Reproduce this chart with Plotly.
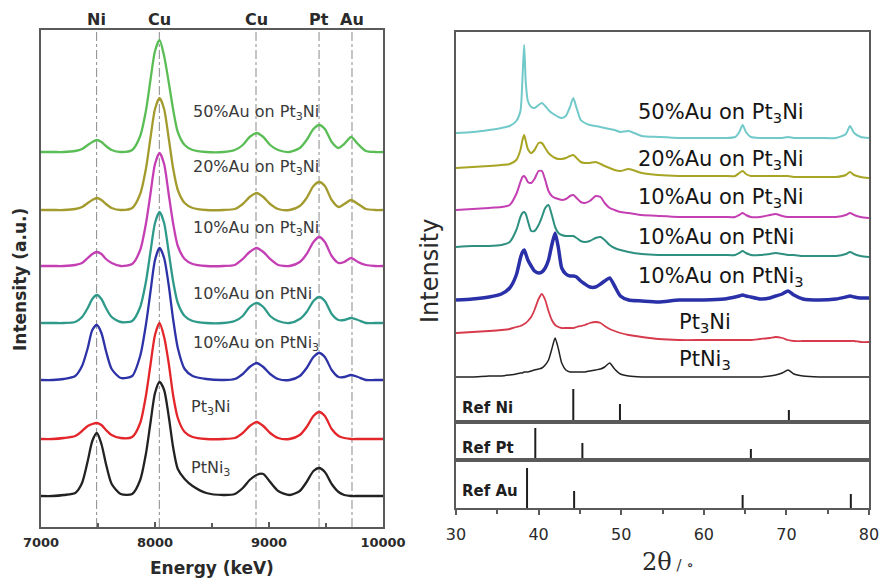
import plotly.graph_objects as go

# ---------------- EDS line scans (left panel) ----------------
energy_kev = [7000, 7100, 7200, 7300, 7360, 7410, 7450, 7490, 7530, 7570, 7620, 7700,
              7800, 7870, 7920, 7960, 8000, 8040, 8080, 8120, 8160, 8200, 8260, 8330,
              8450, 8600, 8700, 8770, 8830, 8890, 8950, 9010, 9080, 9180, 9270, 9330,
              9390, 9440, 9490, 9550, 9610, 9660, 9720, 9780, 9850, 9930, 10000]

eds_50au_pt3ni = [0, 0, 0, 1, 3, 7, 10, 12, 10, 6, 2, 0,
                  2, 16, 41, 72, 101, 112, 96, 70, 42, 20, 7, 2,
                  0, 0, 2, 7, 15, 19, 15, 7, 2, 0,
                  4, 12, 23, 27, 23, 10, 4, 8, 15, 8, 1, 0, 0]
eds_20au_pt3ni = [0, 0, 0, 1, 3, 7, 10, 12, 10, 6, 2, 0,
                  2, 16, 41, 72, 101, 112, 101, 72, 41, 20, 7, 2,
                  0, 0, 1, 6, 13, 17, 13, 6, 1, 0,
                  4, 12, 24, 28, 24, 10, 3, 6, 10, 6, 1, 0, 0]
eds_10au_pt3ni = [0, 0, 0, 1, 3, 8, 12, 14, 12, 7, 3, 0,
                  2, 16, 42, 72, 102, 113, 102, 72, 42, 20, 7, 2,
                  0, 0, 1, 7, 14, 18, 14, 7, 1, 0,
                  4, 12, 24, 29, 24, 10, 3, 4, 8, 4, 1, 0, 0]
eds_10au_ptni = [0, 0, 0, 1, 6, 15, 24, 28, 24, 15, 6, 1,
                 2, 16, 41, 71, 100, 111, 100, 71, 41, 20, 7, 2,
                 0, 0, 2, 7, 16, 20, 16, 7, 2, 0,
                 4, 11, 22, 26, 22, 9, 3, 3, 5, 3, 0, 0, 0]
eds_10au_ptni3 = [0, 0, 1, 4, 14, 32, 50, 55, 47, 29, 11, 2,
                  4, 24, 55, 88, 120, 132, 122, 95, 60, 32, 11, 4,
                  1, 0, 1, 6, 13, 17, 13, 6, 1, 0,
                  4, 12, 23, 27, 23, 10, 3, 3, 5, 3, 0, 0, 0]
eds_pt3ni = [0, 0, 1, 3, 8, 13, 15, 16, 14, 9, 4, 1,
             2, 16, 43, 74, 104, 116, 102, 76, 43, 21, 7, 2,
             0, 0, 1, 6, 13, 17, 13, 6, 1, 0,
             4, 12, 23, 27, 23, 10, 3, 1, 0, 0, 0, 0, 0]
eds_ptni3 = [0, 0, 1, 3, 13, 35, 55, 63, 52, 32, 12, 2,
             2, 16, 42, 73, 103, 114, 106, 80, 48, 27, 17, 10,
             3, 1, 2, 8, 16, 21, 22, 14, 5, 1,
             5, 14, 25, 28, 24, 12, 4, 1, 0, 0, 0, 0, 0]

eds_series = [eds_50au_pt3ni, eds_20au_pt3ni, eds_10au_pt3ni, eds_10au_ptni,
              eds_10au_ptni3, eds_pt3ni, eds_ptni3]
eds_offsets = [375, 317, 261, 204, 147, 88, 31]
eds_colors = ["#5abd55", "#a39b2e", "#c43fb4", "#2f9a8a", "#2d33a6", "#e3262a", "#222222"]
eds_labels = ["50%Au on Pt<sub>3</sub>Ni", "20%Au on Pt<sub>3</sub>Ni", "10%Au on Pt<sub>3</sub>Ni",
              "10%Au on PtNi", "10%Au on PtNi<sub>3</sub>", "Pt<sub>3</sub>Ni", "PtNi<sub>3</sub>"]
eds_label_x = [8315, 8315, 8315, 8315, 8315, 8300, 8300]
eds_label_y = [415, 360, 299, 234, 184, 120, 59]
energy_ticks = [7000, 8000, 9000, 10000]
energy_ticktext = ["7000", "8000", "9000", "10000"]

element_names = ["Ni", "Cu", "Cu", "Pt", "Au"]
element_lines = [7488, 8038, 8886, 9439, 9728]

# ---------------- XRD patterns (right panel) ----------------
two_theta = [30, 32, 34, 35.5, 36.5, 37.3, 37.8, 38.05, 38.25, 38.45, 38.7, 39.1, 39.5, 40.0,
             40.4, 40.8, 41.2, 41.6, 42.0, 42.4, 42.8, 43.3, 43.8, 44.2, 44.6, 45.1, 45.6, 46.2,
             46.9, 47.5, 48.0, 48.6, 49.2, 49.9, 50.9, 52.5, 54.5, 57, 60, 62.5, 63.8, 64.3,
             64.7, 65.1, 65.7, 66.8, 68, 68.7, 69.5, 70.2, 70.9, 72, 74, 76, 77.2, 77.7, 78.2,
             79, 80]

xrd_50au_pt3ni = [0, 1, 3, 5, 7, 12, 22, 55, 88, 50, 32, 26, 25, 28, 30, 27, 23, 20, 18, 16,
                  15, 17, 26, 35, 25, 13, 10, 8, 7, 6, 5, 4, 3, 1, 2, -3, -4, -5, -5, -5,
                  -4, 1, 8, 1, -4, -5, -5, -5, -5, -4, -5, -5, -5, -5, -1, 7, 0, -4, -5]
xrd_20au_pt3ni = [0, 1, 2, 3, 4, 8, 18, 28, 33, 27, 19, 15, 18, 25, 25, 20, 15, 12, 10, 9,
                  9, 10, 12, 13, 10, 6, 5, 5, 6, 4, 2, 0, -2, -3, -1, -5, -7, -8, -8, -8,
                  -8, -5, -3, -6, -8, -8, -8, -8, -8, -8, -9, -9, -9, -9, -7, -4, -7, -9, -10]
xrd_10au_pt3ni = [0, 1, 2, 3, 5, 16, 28, 33, 34, 32, 28, 27, 31, 39, 39, 30, 19, 14, 12, 11,
                  10, 11, 14, 15, 12, 8, 7, 9, 14, 13, 7, 2, 0, -2, -3, -5, -6, -7, -7, -7,
                  -7, -5, -3, -5, -7, -7, -5, -4, -6, -7, -7, -7, -7, -7, -5, -3, -5, -7, -8]
xrd_10au_ptni = [0, 1, 1, 2, 5, 17, 30, 34, 35, 33, 26, 16, 16, 22, 30, 39, 42, 32, 20, 14,
                 12, 11, 11, 11, 9, 6, 5, 6, 9, 10, 7, 2, -1, -3, -5, -7, -8, -8, -8, -8,
                 -8, -6, -4, -6, -8, -8, -7, -6, -7, -8, -8, -9, -9, -9, -7, -5, -7, -9, -10]
xrd_10au_ptni3 = [0, 1, 3, 6, 12, 25, 42, 48, 50, 46, 40, 34, 29, 27, 28, 32, 40, 55, 67, 52,
                  32, 26, 24, 24, 23, 19, 16, 13, 13, 16, 19, 22, 14, 4, 0, -1, -2, 0, 0, 1,
                  3, 4, 5, 4, 3, 1, 2, 4, 6, 9, 5, 1, 0, 1, 3, 4, 3, 2, 2]
xrd_pt3ni = [0, 1, 2, 3, 4, 6, 7, 8, 9, 10, 12, 16, 23, 34, 39, 33, 22, 13, 8, 6,
             5, 5, 5, 5, 6, 7, 8, 10, 11, 10, 7, 4, 2, 0, -2, -4, -6, -7, -7, -7,
             -7, -7, -7, -7, -7, -6, -5, -4, -5, -7, -8, -8, -8, -8, -8, -8, -8, -9, -9]
xrd_ptni3 = [0, 0, 1, 1, 2, 3, 4, 4, 5, 5, 5, 6, 7, 8, 9, 12, 17, 28, 39, 28,
             14, 7, 5, 5, 5, 5, 5, 6, 7, 8, 10, 14, 8, 3, 1, 0, 0, 0, 0, 0,
             0, 0, 0, 0, 0, 0, 1, 2, 4, 7, 3, 1, 0, 0, 0, 0, 0, 0, 0]

xrd_series = [xrd_50au_pt3ni, xrd_20au_pt3ni, xrd_10au_pt3ni, xrd_10au_ptni,
              xrd_10au_ptni3, xrd_pt3ni, xrd_ptni3]
xrd_offsets = [289, 254, 212, 175, 122, 89, 45]
xrd_colors = ["#72c9c9", "#a8a424", "#c440b2", "#2e9080", "#2a30a8", "#d63a4c", "#222222"]
xrd_widths = [2, 2, 2, 2, 3.5, 1.8, 1.5]
xrd_label_x = [51.8, 51.8, 51.8, 51.8, 51.8, 56.7, 56.7]
xrd_label_y = [309, 262, 224, 185, 145, 99, 62]

# reference stick patterns
ref_ni_pos = [44.2, 49.85, 70.3]
ref_ni_int = [33, 18, 12]
ref_pt_pos = [39.6, 45.3, 65.7]
ref_pt_int = [32, 17, 11]
ref_au_pos = [38.6, 44.3, 64.7, 77.8]
ref_au_int = [40, 17, 13, 14]

W, H = 882, 580
FONT = "DejaVu Sans"
TXT = "#2a2a2a"
FRAME = "#5a5a5a"


def px_x(p):
    return p / W


def px_y(p):
    return 1 - p / H


fig = go.Figure()

# left panel curves
for vals, off, col in zip(eds_series, eds_offsets, eds_colors):
    fig.add_trace(go.Scatter(
        x=energy_kev, y=[v + off for v in vals], mode="lines",
        line=dict(color=col, width=2.3, shape="spline", smoothing=0.7),
        xaxis="x", yaxis="y", hoverinfo="skip"))

# right panel curves
for vals, off, col, lw in zip(xrd_series, xrd_offsets, xrd_colors, xrd_widths):
    fig.add_trace(go.Scatter(
        x=two_theta, y=[v + off for v in vals], mode="lines",
        line=dict(color=col, width=lw, shape="spline", smoothing=0.6),
        xaxis="x2", yaxis="y2", hoverinfo="skip"))


def sticks(pos, inten, xa, ya):
    xs, ys = [], []
    for p, h in zip(pos, inten):
        xs += [p, p, None]
        ys += [0, h, None]
    fig.add_trace(go.Scatter(x=xs, y=ys, mode="lines",
                             line=dict(color="#1e1e1e", width=2),
                             xaxis=xa, yaxis=ya, hoverinfo="skip"))


sticks(ref_ni_pos, ref_ni_int, "x2", "y2")
sticks(ref_pt_pos, ref_pt_int, "x3", "y3")
sticks(ref_au_pos, ref_au_int, "x4", "y4")

# dashed element guide lines on the EDS panel
shapes = []
for e in element_lines:
    shapes.append(dict(type="line", xref="x", yref="y domain", x0=e, x1=e, y0=0, y1=1,
                       line=dict(color="#8a8a8a", width=1, dash="dashdot"), layer="below"))

annotations = []
for name, e in zip(element_names, element_lines):
    annotations.append(dict(text=name, x=e, xref="x", y=px_y(20), yref="paper",
                            showarrow=False, xanchor="center", yanchor="middle",
                            font=dict(family=FONT, size=16, color=TXT, weight="bold")))

for lab, lx, ly in zip(eds_labels, eds_label_x, eds_label_y):
    annotations.append(dict(text=lab, x=lx, y=ly, xref="x", yref="y", showarrow=False,
                            xanchor="left", yanchor="middle",
                            font=dict(family=FONT, size=16, color="#3a3a3a")))

for lab, lx, ly in zip(eds_labels, xrd_label_x, xrd_label_y):
    annotations.append(dict(text=lab, x=lx, y=ly, xref="x2", yref="y2", showarrow=False,
                            xanchor="left", yanchor="middle",
                            font=dict(family=FONT, size=21, color="#151515")))

for lab, ya, yv in [("Ref Ni", "y2", 14), ("Ref Pt", "y3", 12), ("Ref Au", "y4", 17)]:
    annotations.append(dict(text=lab, x=30.5, y=yv, xref="x2", yref=ya, showarrow=False,
                            xanchor="left", yanchor="middle",
                            font=dict(family=FONT, size=15, color="#1e1e1e", weight="bold")))

# axis titles
annotations += [
    dict(text="Energy (keV)", x=px_x(212), y=px_y(568), xref="paper", yref="paper",
         showarrow=False, xanchor="center", yanchor="middle",
         font=dict(family=FONT, size=17, color=TXT, weight="bold")),
    dict(text="Intensity (a.u.)", x=px_x(20), y=px_y(280), xref="paper", yref="paper",
         showarrow=False, xanchor="center", yanchor="middle", textangle=-90,
         font=dict(family=FONT, size=17, color=TXT, weight="bold")),
    dict(text="Intensity", x=px_x(430), y=px_y(271), xref="paper", yref="paper",
         showarrow=False, xanchor="center", yanchor="middle", textangle=-90,
         font=dict(family=FONT, size=24, color=TXT)),
    dict(text='2θ<span style="font-size:15px"> / ∘</span>', x=px_x(668), y=px_y(562),
         xref="paper", yref="paper", showarrow=False, xanchor="center", yanchor="middle",
         font=dict(family="DejaVu Serif", size=24, color=TXT)),
]

frame = dict(showline=True, mirror=True, linecolor=FRAME, linewidth=1.5,
             showgrid=False, zeroline=False)

right_dom = [px_x(456), px_x(869)]

fig.update_layout(
    width=W, height=H, margin=dict(l=0, r=0, t=0, b=0),
    paper_bgcolor="white", plot_bgcolor="white", showlegend=False,
    shapes=shapes, annotations=annotations,
    xaxis=dict(domain=[px_x(41), px_x(383)], range=[7000, 10000], anchor="y",
               tickvals=energy_ticks, ticktext=energy_ticktext,
               ticks="inside", ticklen=5, tickcolor=FRAME, tickwidth=1.5,
               ticklabelstandoff=3, automargin=False,
               minor=dict(tickvals=[7500, 8500, 9500], ticks="inside", ticklen=4,
                          tickcolor=FRAME),
               tickfont=dict(family=FONT, size=13, color=TXT, weight="bold"), **frame),
    yaxis=dict(domain=[px_y(527), px_y(30)], range=[0, 497], anchor="x",
               showticklabels=False, ticks="", automargin=False, **frame),
    xaxis2=dict(domain=right_dom, range=[30, 80], anchor="y2", showticklabels=False,
                ticks="", automargin=False, **frame),
    yaxis2=dict(domain=[px_y(422), px_y(32)], range=[0, 390], anchor="x2",
                showticklabels=False, ticks="", automargin=False, **frame),
    xaxis3=dict(domain=right_dom, range=[30, 80], anchor="y3", showticklabels=False,
                ticks="", automargin=False, **frame),
    yaxis3=dict(domain=[px_y(460), px_y(422)], range=[0, 38], anchor="x3",
                showticklabels=False, ticks="", automargin=False, **frame),
    xaxis4=dict(domain=right_dom, range=[30, 80], anchor="y4",
                tickvals=[30, 40, 50, 60, 70, 80], ticks="outside", ticklen=5,
                tickcolor=FRAME, tickwidth=1.5, ticklabelstandoff=6, automargin=False,
                minor=dict(tickvals=[35, 45, 55, 65, 75], ticks="outside", ticklen=4,
                           tickcolor=FRAME),
                tickfont=dict(family=FONT, size=16, color=TXT), **frame),
    yaxis4=dict(domain=[px_y(508), px_y(460)], range=[0, 48], anchor="x4",
                showticklabels=False, ticks="", automargin=False, **frame),
)

fig.write_html("out.html")
